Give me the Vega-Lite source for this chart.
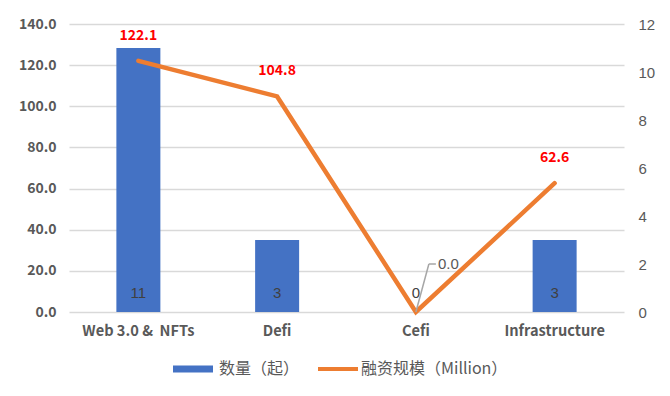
{
  "$schema": "https://vega.github.io/schema/vega-lite/v6.json",
  "width": 555,
  "height": 288,
  "autosize": {"type": "none"},
  "padding": {"left": 69, "top": 24, "right": 46, "bottom": 84},
  "background": "white",
  "config": {
    "view": {"stroke": null},
    "font": "Noto Sans CJK SC",
    "legend": {"labelFont": "Noto Sans CJK SC", "labelFontSize": 16, "labelColor": "#595959",
               "layout": {"bottom": {"anchor": "middle", "direction": "horizontal", "margin": 30}}}
  },
  "data": {
    "values": [
      {"cat": "Web 3.0 &\u00a0 NFTs", "count": 11, "amount": 122.1, "s1": "数量（起）", "s2": "融资规模（Million）"},
      {"cat": "Defi", "count": 3, "amount": 104.8, "s1": "数量（起）", "s2": "融资规模（Million）"},
      {"cat": "Cefi", "count": 0, "amount": 0.0, "s1": "数量（起）", "s2": "融资规模（Million）"},
      {"cat": "Infrastructure", "count": 3, "amount": 62.6, "s1": "数量（起）", "s2": "融资规模（Million）"}
    ]
  },
  "encoding": {
    "x": {
      "field": "cat", "type": "nominal", "sort": null,
      "scale": {"paddingInner": 0, "paddingOuter": 0},
      "axis": {"title": null, "labelAngle": 0, "ticks": false, "domain": false, "labelPadding": 11,
               "labelFontSize": 14.6, "labelFontWeight": "bold", "labelColor": "#595959", "labelFont": "Noto Sans CJK SC"}
    }
  },
  "layer": [
    {
      "layer": [
        {
          "mark": {"type": "bar", "width": 44},
          "encoding": {
            "y": {"field": "count", "type": "quantitative", "scale": {"domain": [0, 12]},
                  "axis": {"orient": "right", "title": null, "values": [0, 2, 4, 6, 8, 10, 12], "grid": false,
                           "ticks": false, "domain": false, "labelPadding": 14, "labelFontSize": 15,
                           "labelColor": "#595959", "labelFont": "Liberation Sans", "labelAlign": "left"}},
            "fill": {"field": "s1", "type": "nominal", "scale": {"range": ["#4472C4"]},
                      "legend": {"title": null, "orient": "bottom", "symbolType": "M-2.5,-0.45H2.5V0.45H-2.5Z",
                                 "symbolSize": 256, "symbolStrokeWidth": 0, "labelOffset": 18, "offset": 23}}
          }
        },
        {
          "mark": {"type": "text", "baseline": "middle", "dy": -19, "fontSize": 15, "color": "#404040", "font": "Liberation Sans"},
          "encoding": {
            "y": {"datum": 0, "type": "quantitative"},
            "text": {"field": "count", "type": "quantitative"}
          }
        }
      ]
    },
    {
      "layer": [
        {
          "mark": {"type": "line", "strokeWidth": 4.5, "strokeCap": "round"},
          "encoding": {
            "y": {"field": "amount", "type": "quantitative", "scale": {"domain": [0, 140]},
                  "axis": {"orient": "left", "title": null, "values": [0, 20, 40, 60, 80, 100, 120, 140], "format": ".1f",
                           "grid": true, "gridColor": "#D9D9D9", "gridWidth": 1.3, "ticks": false, "domain": false,
                           "labelPadding": 13, "labelFontSize": 14, "labelFontWeight": "bold",
                           "labelColor": "#595959", "labelFont": "Noto Sans CJK SC"}},
            "color": {"field": "s2", "type": "nominal", "scale": {"range": ["#ED7D31"]},
                       "legend": {"title": null, "orient": "bottom", "symbolType": "M-2.5,-0.25H2.5V0.25H-2.5Z",
                                  "symbolFillColor": "#ED7D31", "symbolStrokeWidth": 0, "symbolSize": 256,
                                  "labelOffset": 15, "offset": 23}}
          }
        },
        {
          "transform": [{"filter": "datum.cat !== 'Cefi'"}],
          "mark": {"type": "text", "baseline": "middle", "dy": -25, "fontSize": 14, "fontWeight": "bold", "color": "#FF0000", "font": "Noto Sans CJK SC"},
          "encoding": {
            "y": {"field": "amount", "type": "quantitative"},
            "text": {"field": "amount", "type": "quantitative", "format": ".1f"}
          }
        },
        {
          "transform": [{"filter": "datum.cat === 'Cefi'"}],
          "mark": {"type": "text", "baseline": "middle", "align": "left", "dx": 22, "dy": -48, "fontSize": 15, "color": "#595959", "font": "Liberation Sans"},
          "encoding": {
            "y": {"field": "amount", "type": "quantitative"},
            "text": {"field": "amount", "type": "quantitative", "format": ".1f"}
          }
        },
        {
          "transform": [{"filter": "datum.cat === 'Cefi'"}],
          "mark": {"type": "rule", "color": "#A6A6A6", "strokeWidth": 1.5, "x2Offset": 13, "y2Offset": -48},
          "encoding": {
            "y": {"field": "amount", "type": "quantitative"},
            "y2": {"field": "amount"},
            "x2": {"field": "cat"}
          }
        },
        {
          "transform": [{"filter": "datum.cat === 'Cefi'"}],
          "mark": {"type": "rule", "color": "#A6A6A6", "strokeWidth": 1.5, "xOffset": 13, "x2Offset": 20, "yOffset": -48, "y2Offset": -48},
          "encoding": {
            "y": {"field": "amount", "type": "quantitative"},
            "y2": {"field": "amount"},
            "x2": {"field": "cat"}
          }
        }
      ]
    }
  ],
  "resolve": {"scale": {"y": "independent", "color": "independent", "fill": "independent"}}
}
